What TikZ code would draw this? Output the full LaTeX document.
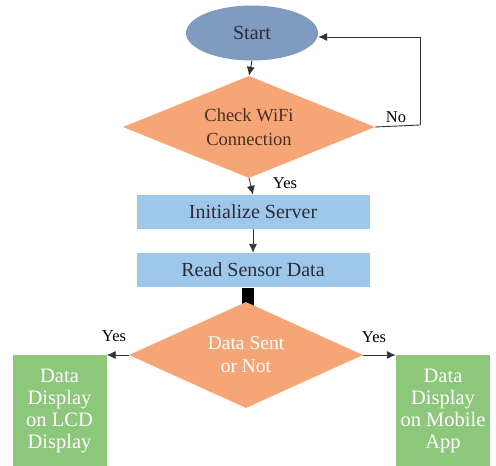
\documentclass[tikz,border=0pt]{standalone}
\usepackage{fontspec}
\setmainfont{Liberation Serif}
\usetikzlibrary{shapes.geometric,arrows.meta}
\definecolor{ellblue}{HTML}{7F9CC0}
\definecolor{dorange}{HTML}{F6A676}
\definecolor{boxblue}{HTML}{9DC8EB}
\definecolor{boxgreen}{HTML}{8DC77B}
\definecolor{txtdark}{HTML}{2B2B3A}
\definecolor{txtbrown}{HTML}{4A2E22}
\begin{document}
\begin{tikzpicture}[x=1pt,y=-1pt,
  arr/.style={draw=black!80,line width=0.9pt,-{Latex[length=9pt,width=8pt]}},
  lbl/.style={font=\fontsize{16.5}{18}\selectfont,text=black},
  decision/.style={diamond,fill=dorange,draw=none,inner sep=0pt,align=center,aspect=2.4},
  procbox/.style={rectangle,fill=boxblue,draw=none,minimum width=233pt,minimum height=34pt,font=\fontsize{20}{22}\selectfont,text=txtdark},
  outbox/.style={rectangle,fill=boxgreen,draw=none,minimum width=94pt,minimum height=112pt,align=center,font=\fontsize{20.5}{22}\selectfont,text=white}]
\useasboundingbox (0,0) rectangle (496,466);
\node[ellipse,fill=ellblue,draw=none,minimum width=132pt,minimum height=55pt,font=\fontsize{20}{22}\selectfont,text=txtdark] (start) at (252,33) {Start};
\node[decision,minimum width=252pt,minimum height=102pt,font=\fontsize{18.5}{24}\selectfont,text=txtbrown] (wifi) at (249,127) {Check WiFi\\Connection};
\node[procbox] (init) at (253,212) {Initialize Server};
\node[procbox] (read) at (253,270) {Read Sensor Data};
\node[rectangle,fill=black,minimum width=12pt,minimum height=18pt,inner sep=0pt] (blk) at (248,297) {};
\node[decision,minimum width=234pt,minimum height=106pt,font=\fontsize{19.5}{23}\selectfont,text=white] (sent) at (246,355) {Data Sent\\or Not};
\node[outbox] (lcd) at (59.5,411) {Data\\Display\\on LCD\\Display};
\node[outbox] (mob) at (443,411) {Data\\Display\\on Mobile\\App};
\coordinate (nr) at (420,125);
\coordinate (nt) at (420,37);
\draw[arr] (start.south) -- (wifi.north);
\draw[arr] (wifi.south) -- (init.north);
\draw[arr] (init.south) -- (read.north);
\draw[line width=0.9pt,draw=black!80] (wifi.east) -- (nr);
\draw[arr] (nr) -- (nt) -- (start.east |- nt);
\draw[arr] (sent.west) -- (sent.west -| lcd.east);
\draw[arr] (sent.east) -- (sent.east -| mob.west);
\node[lbl] (no) at (396,117) {No};
\node[lbl] (y1) at (285,183) {Yes};
\node[lbl] (y2) at (114,336) {Yes};
\node[lbl] (y3) at (374,337) {Yes};
\end{tikzpicture}
\end{document}
